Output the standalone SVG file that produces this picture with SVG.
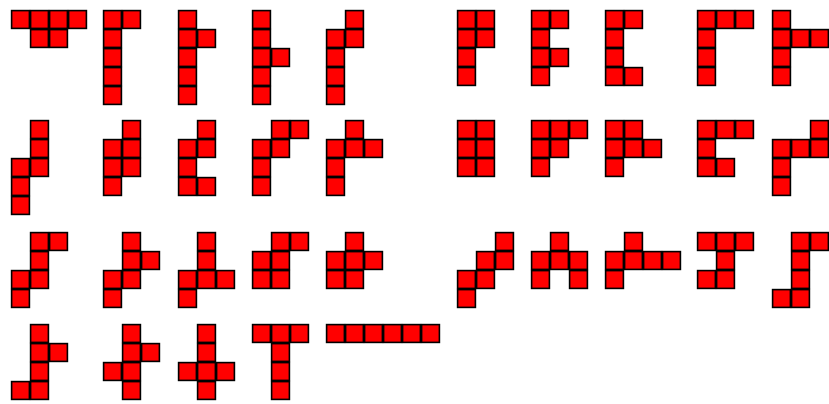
<svg xmlns="http://www.w3.org/2000/svg" xmlns:xlink="http://www.w3.org/1999/xlink" width="829" height="404" viewBox="0 0 829 404">
<style>
.cell{fill:#ff0000;stroke:#000000;stroke-width:1.6}
</style>
<defs>
<rect id="c" class="cell" x="0.6" y="0.6" width="17.8" height="17.8"/>
</defs>
<rect width="829" height="404" fill="#ffffff"/>
<!-- Row 1 -->
<g id="p1" transform="translate(11,10)"><use href="#c" x="0" y="0"/><use href="#c" x="19" y="0"/><use href="#c" x="38" y="0"/><use href="#c" x="57" y="0"/><use href="#c" x="19" y="19"/><use href="#c" x="38" y="19"/></g>
<g id="p2" transform="translate(103,10)"><use href="#c" x="0" y="0"/><use href="#c" x="19" y="0"/><use href="#c" x="0" y="19"/><use href="#c" x="0" y="38"/><use href="#c" x="0" y="57"/><use href="#c" x="0" y="76"/></g>
<g id="p3" transform="translate(178,10)"><use href="#c" x="0" y="0"/><use href="#c" x="0" y="19"/><use href="#c" x="19" y="19"/><use href="#c" x="0" y="38"/><use href="#c" x="0" y="57"/><use href="#c" x="0" y="76"/></g>
<g id="p4" transform="translate(252,10)"><use href="#c" x="0" y="0"/><use href="#c" x="0" y="19"/><use href="#c" x="0" y="38"/><use href="#c" x="19" y="38"/><use href="#c" x="0" y="57"/><use href="#c" x="0" y="76"/></g>
<g id="p5" transform="translate(326,10)"><use href="#c" x="19" y="0"/><use href="#c" x="0" y="19"/><use href="#c" x="19" y="19"/><use href="#c" x="0" y="38"/><use href="#c" x="0" y="57"/><use href="#c" x="0" y="76"/></g>
<g id="p6" transform="translate(457,10)"><use href="#c" x="0" y="0"/><use href="#c" x="19" y="0"/><use href="#c" x="0" y="19"/><use href="#c" x="19" y="19"/><use href="#c" x="0" y="38"/><use href="#c" x="0" y="57"/></g>
<g id="p7" transform="translate(531,10)"><use href="#c" x="0" y="0"/><use href="#c" x="19" y="0"/><use href="#c" x="0" y="19"/><use href="#c" x="0" y="38"/><use href="#c" x="19" y="38"/><use href="#c" x="0" y="57"/></g>
<g id="p8" transform="translate(605,10)"><use href="#c" x="0" y="0"/><use href="#c" x="19" y="0"/><use href="#c" x="0" y="19"/><use href="#c" x="0" y="38"/><use href="#c" x="0" y="57"/><use href="#c" x="19" y="57"/></g>
<g id="p9" transform="translate(697,10)"><use href="#c" x="0" y="0"/><use href="#c" x="19" y="0"/><use href="#c" x="38" y="0"/><use href="#c" x="0" y="19"/><use href="#c" x="0" y="38"/><use href="#c" x="0" y="57"/></g>
<g id="p10" transform="translate(772,10)"><use href="#c" x="0" y="0"/><use href="#c" x="0" y="19"/><use href="#c" x="19" y="19"/><use href="#c" x="38" y="19"/><use href="#c" x="0" y="38"/><use href="#c" x="0" y="57"/></g>
<!-- Row 2 -->
<g id="p11" transform="translate(11,120)"><use href="#c" x="19" y="0"/><use href="#c" x="19" y="19"/><use href="#c" x="0" y="38"/><use href="#c" x="19" y="38"/><use href="#c" x="0" y="57"/><use href="#c" x="0" y="76"/></g>
<g id="p12" transform="translate(103,120)"><use href="#c" x="19" y="0"/><use href="#c" x="0" y="19"/><use href="#c" x="19" y="19"/><use href="#c" x="0" y="38"/><use href="#c" x="19" y="38"/><use href="#c" x="0" y="57"/></g>
<g id="p13" transform="translate(178,120)"><use href="#c" x="19" y="0"/><use href="#c" x="0" y="19"/><use href="#c" x="19" y="19"/><use href="#c" x="0" y="38"/><use href="#c" x="0" y="57"/><use href="#c" x="19" y="57"/></g>
<g id="p14" transform="translate(252,120)"><use href="#c" x="19" y="0"/><use href="#c" x="38" y="0"/><use href="#c" x="0" y="19"/><use href="#c" x="19" y="19"/><use href="#c" x="0" y="38"/><use href="#c" x="0" y="57"/></g>
<g id="p15" transform="translate(326,120)"><use href="#c" x="19" y="0"/><use href="#c" x="0" y="19"/><use href="#c" x="19" y="19"/><use href="#c" x="38" y="19"/><use href="#c" x="0" y="38"/><use href="#c" x="0" y="57"/></g>
<g id="p16" transform="translate(457,120)"><use href="#c" x="0" y="0"/><use href="#c" x="19" y="0"/><use href="#c" x="0" y="19"/><use href="#c" x="19" y="19"/><use href="#c" x="0" y="38"/><use href="#c" x="19" y="38"/></g>
<g id="p17" transform="translate(531,120)"><use href="#c" x="0" y="0"/><use href="#c" x="19" y="0"/><use href="#c" x="38" y="0"/><use href="#c" x="0" y="19"/><use href="#c" x="19" y="19"/><use href="#c" x="0" y="38"/></g>
<g id="p18" transform="translate(605,120)"><use href="#c" x="0" y="0"/><use href="#c" x="19" y="0"/><use href="#c" x="0" y="19"/><use href="#c" x="19" y="19"/><use href="#c" x="38" y="19"/><use href="#c" x="0" y="38"/></g>
<g id="p19" transform="translate(697,120)"><use href="#c" x="0" y="0"/><use href="#c" x="19" y="0"/><use href="#c" x="38" y="0"/><use href="#c" x="0" y="19"/><use href="#c" x="0" y="38"/><use href="#c" x="19" y="38"/></g>
<g id="p20" transform="translate(772,120)"><use href="#c" x="38" y="0"/><use href="#c" x="0" y="19"/><use href="#c" x="19" y="19"/><use href="#c" x="38" y="19"/><use href="#c" x="0" y="38"/><use href="#c" x="0" y="57"/></g>
<!-- Row 3 -->
<g id="p21" transform="translate(11,232)"><use href="#c" x="19" y="0"/><use href="#c" x="38" y="0"/><use href="#c" x="19" y="19"/><use href="#c" x="0" y="38"/><use href="#c" x="19" y="38"/><use href="#c" x="0" y="57"/></g>
<g id="p22" transform="translate(103,232)"><use href="#c" x="19" y="0"/><use href="#c" x="19" y="19"/><use href="#c" x="38" y="19"/><use href="#c" x="0" y="38"/><use href="#c" x="19" y="38"/><use href="#c" x="0" y="57"/></g>
<g id="p23" transform="translate(178,232)"><use href="#c" x="19" y="0"/><use href="#c" x="19" y="19"/><use href="#c" x="0" y="38"/><use href="#c" x="19" y="38"/><use href="#c" x="38" y="38"/><use href="#c" x="0" y="57"/></g>
<g id="p24" transform="translate(252,232)"><use href="#c" x="19" y="0"/><use href="#c" x="38" y="0"/><use href="#c" x="0" y="19"/><use href="#c" x="19" y="19"/><use href="#c" x="0" y="38"/><use href="#c" x="19" y="38"/></g>
<g id="p25" transform="translate(326,232)"><use href="#c" x="19" y="0"/><use href="#c" x="0" y="19"/><use href="#c" x="19" y="19"/><use href="#c" x="38" y="19"/><use href="#c" x="0" y="38"/><use href="#c" x="19" y="38"/></g>
<g id="p26" transform="translate(457,232)"><use href="#c" x="38" y="0"/><use href="#c" x="19" y="19"/><use href="#c" x="38" y="19"/><use href="#c" x="0" y="38"/><use href="#c" x="19" y="38"/><use href="#c" x="0" y="57"/></g>
<g id="p27" transform="translate(531,232)"><use href="#c" x="19" y="0"/><use href="#c" x="0" y="19"/><use href="#c" x="19" y="19"/><use href="#c" x="38" y="19"/><use href="#c" x="0" y="38"/><use href="#c" x="38" y="38"/></g>
<g id="p28" transform="translate(605,232)"><use href="#c" x="19" y="0"/><use href="#c" x="0" y="19"/><use href="#c" x="19" y="19"/><use href="#c" x="38" y="19"/><use href="#c" x="57" y="19"/><use href="#c" x="0" y="38"/></g>
<g id="p29" transform="translate(697,232)"><use href="#c" x="0" y="0"/><use href="#c" x="19" y="0"/><use href="#c" x="38" y="0"/><use href="#c" x="19" y="19"/><use href="#c" x="0" y="38"/><use href="#c" x="19" y="38"/></g>
<g id="p30" transform="translate(772,232)"><use href="#c" x="19" y="0"/><use href="#c" x="38" y="0"/><use href="#c" x="19" y="19"/><use href="#c" x="19" y="38"/><use href="#c" x="0" y="57"/><use href="#c" x="19" y="57"/></g>
<!-- Row 4 -->
<g id="p31" transform="translate(11,324)"><use href="#c" x="19" y="0"/><use href="#c" x="19" y="19"/><use href="#c" x="38" y="19"/><use href="#c" x="19" y="38"/><use href="#c" x="0" y="57"/><use href="#c" x="19" y="57"/></g>
<g id="p32" transform="translate(103,324)"><use href="#c" x="19" y="0"/><use href="#c" x="19" y="19"/><use href="#c" x="38" y="19"/><use href="#c" x="0" y="38"/><use href="#c" x="19" y="38"/><use href="#c" x="19" y="57"/></g>
<g id="p33" transform="translate(178,324)"><use href="#c" x="19" y="0"/><use href="#c" x="19" y="19"/><use href="#c" x="0" y="38"/><use href="#c" x="19" y="38"/><use href="#c" x="38" y="38"/><use href="#c" x="19" y="57"/></g>
<g id="p34" transform="translate(252,324)"><use href="#c" x="0" y="0"/><use href="#c" x="19" y="0"/><use href="#c" x="38" y="0"/><use href="#c" x="19" y="19"/><use href="#c" x="19" y="38"/><use href="#c" x="19" y="57"/></g>
<g id="p35" transform="translate(326,324)"><use href="#c" x="0" y="0"/><use href="#c" x="19" y="0"/><use href="#c" x="38" y="0"/><use href="#c" x="57" y="0"/><use href="#c" x="76" y="0"/><use href="#c" x="95" y="0"/></g>
<g id="connectors"></g>
</svg>
